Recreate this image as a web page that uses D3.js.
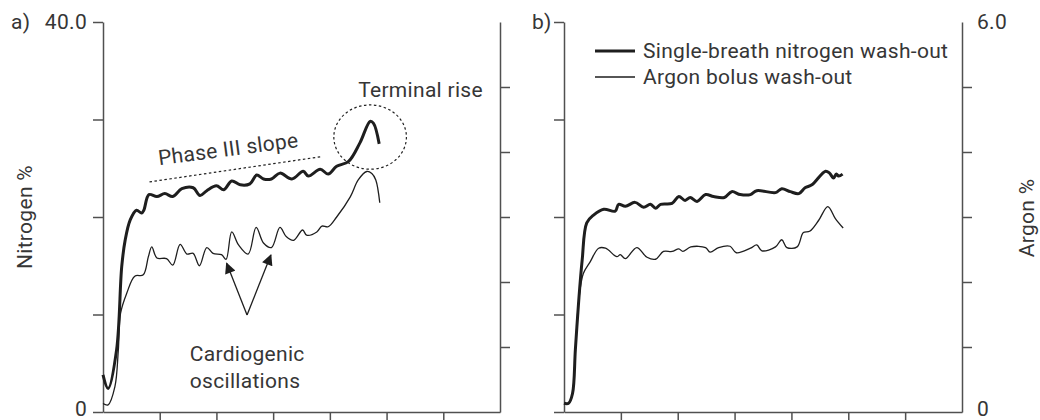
<!DOCTYPE html>
<html>
<head>
<meta charset="utf-8">
<script src="https://cdn.jsdelivr.net/npm/d3@7"></script>
<style>
  body { margin: 0; background: #fff; }
  svg text { font-family: Roboto, "DejaVu Sans", sans-serif; fill: #363636; font-size: 21px; letter-spacing: 0.3px; }
</style>
</head>
<body>
<svg width="1040" height="420"></svg>
<script>
// x in arbitrary volume units (0..7), nitrogen in %, argon in %
const nitrogenA = [
  [0, 3.8], [0.09, 2.4], [0.24, 6.4], [0.33, 14.9], [0.39, 17.6], [0.48, 19.7], [0.59, 20.7],
  [0.68, 20.4], [0.72, 20.7], [0.81, 22.3], [0.95, 22.1], [1.09, 22.4], [1.23, 22.1], [1.39, 22.9],
  [1.59, 23.0], [1.71, 22.2], [1.83, 22.7], [2.00, 23.2], [2.13, 22.8], [2.27, 23.7], [2.42, 23.3],
  [2.59, 23.4], [2.71, 24.3], [2.83, 23.9], [2.97, 23.9], [3.12, 24.5], [3.33, 23.9], [3.53, 24.7],
  [3.62, 24.2], [3.83, 24.9], [3.97, 24.4], [4.12, 25.2], [4.33, 25.7], [4.53, 27.6], [4.71, 29.8],
  [4.77, 29.6], [4.87, 27.5]
]
const argonA = [
  [0, 0.13], [0.09, 0.11], [0.21, 0.39], [0.27, 0.95], [0.31, 1.52], [0.42, 1.83], [0.56, 2.09],
  [0.71, 2.11], [0.80, 2.39], [0.86, 2.54], [0.95, 2.37], [1.12, 2.36], [1.23, 2.26], [1.36, 2.58],
  [1.48, 2.43], [1.59, 2.44], [1.70, 2.25], [1.83, 2.53], [1.94, 2.44], [2.09, 2.42], [2.17, 2.35],
  [2.27, 2.77], [2.39, 2.57], [2.56, 2.43], [2.70, 2.84], [2.83, 2.60], [2.97, 2.53], [3.12, 2.84],
  [3.23, 2.70], [3.36, 2.64], [3.52, 2.80], [3.59, 2.72], [3.77, 2.77], [3.86, 2.86], [3.97, 2.85],
  [4.12, 3.00], [4.36, 3.31], [4.50, 3.57], [4.65, 3.70], [4.74, 3.67], [4.81, 3.57], [4.88, 3.22]
]
const nitrogenB = [
  [0, 0.9], [0.08, 0.9], [0.15, 1.9], [0.20, 6.4], [0.26, 11.5], [0.32, 15.6], [0.40, 19.4],
  [0.52, 20.2], [0.70, 20.8], [0.90, 20.6], [0.96, 21.3], [1.08, 21.1], [1.25, 21.5], [1.40, 21.0],
  [1.52, 21.3], [1.61, 20.9], [1.70, 21.3], [1.90, 21.4], [2.02, 22.1], [2.13, 21.7], [2.22, 22.0],
  [2.34, 21.6], [2.49, 22.3], [2.63, 22.1], [2.82, 22.0], [2.95, 22.6], [3.10, 22.3], [3.28, 22.3],
  [3.39, 22.7], [3.72, 22.5], [3.83, 22.9], [3.98, 22.6], [4.13, 22.4], [4.24, 23.0], [4.36, 23.3],
  [4.60, 24.7], [4.67, 24.5], [4.74, 24.0], [4.79, 24.4], [4.83, 24.2], [4.90, 24.4]
]
const argonB = [
  [0, 0.13], [0.08, 0.13], [0.15, 0.29], [0.20, 0.95], [0.26, 1.72], [0.34, 2.13], [0.46, 2.31],
  [0.61, 2.52], [0.73, 2.52], [0.93, 2.39], [0.99, 2.42], [1.08, 2.36], [1.28, 2.53], [1.46, 2.38],
  [1.61, 2.35], [1.75, 2.47], [1.90, 2.47], [2.02, 2.51], [2.09, 2.47], [2.23, 2.54], [2.49, 2.53],
  [2.57, 2.46], [2.72, 2.53], [2.92, 2.55], [3.03, 2.45], [3.28, 2.52], [3.39, 2.57], [3.48, 2.48],
  [3.72, 2.54], [3.83, 2.65], [3.92, 2.53], [4.10, 2.54], [4.21, 2.76], [4.32, 2.78], [4.48, 2.95],
  [4.64, 3.16], [4.77, 2.98], [4.91, 2.83]
]
const xTicks = [1, 2, 3, 4, 5, 6]
const nitrogenTicks = [0, 10, 20, 30, 40]
const argonTicks = [1, 2, 3, 4, 5]
const legendLabels = ['Single-breath nitrogen wash-out', 'Argon bolus wash-out']

const svg = d3.select('svg')
const plotTop = 22
const plotBottom = 412

function drawPanel ({left, right, nitrogen, argon}) {
  const x = d3.scaleLinear().domain([0, 7]).range([left, right])
  const yN = d3.scaleLinear().domain([0, 40]).range([plotBottom, plotTop])
  const yA = d3.scaleLinear().domain([0, 6]).range([plotBottom, plotTop])
  const g = svg.append('g')

  const styleAxis = sel => {
    sel.selectAll('path, line').attr('stroke', '#505050').attr('stroke-width', 1.5)
    sel.selectAll('text').remove()
  }

  g.append('g')
    .attr('transform', 'translate(0,' + plotBottom + ')')
    .call(d3.axisBottom(x).tickValues(xTicks).tickSize(9).tickSizeOuter(0))
    .call(styleAxis)

  g.append('g')
    .attr('transform', 'translate(' + left + ',0)')
    .call(d3.axisLeft(yN).tickValues(nitrogenTicks).tickSize(10).tickSizeOuter(0))
    .call(styleAxis)

  g.append('g')
    .attr('transform', 'translate(' + right + ',0)')
    .call(d3.axisRight(yA).tickValues(argonTicks).tickSize(10).tickSizeOuter(0))
    .call(styleAxis)

  const lineN = d3.line().x(d => x(d[0])).y(d => yN(d[1])).curve(d3.curveCatmullRom)
  const lineA = d3.line().x(d => x(d[0])).y(d => yA(d[1])).curve(d3.curveCatmullRom)

  g.append('path')
    .datum(argon)
    .attr('fill', 'none')
    .attr('stroke', '#1e1e1e')
    .attr('stroke-width', 1.3)
    .attr('stroke-linejoin', 'round')
    .attr('d', lineA)

  g.append('path')
    .datum(nitrogen)
    .attr('fill', 'none')
    .attr('stroke', '#1e1e1e')
    .attr('stroke-width', 3)
    .attr('stroke-linejoin', 'round')
    .attr('d', lineN)

  return {g, x, yN, yA}
}

const a = drawPanel({left: 103, right: 500, nitrogen: nitrogenA, argon: argonA})
drawPanel({left: 564, right: 962, nitrogen: nitrogenB, argon: argonB})

// panel labels and axis labels
svg.append('text').attr('x', 11).attr('y', plotTop + 7).text('a)')
svg.append('text').attr('x', 87).attr('y', plotTop + 7).attr('text-anchor', 'end').text('40.0')
svg.append('text').attr('x', 87).attr('y', plotBottom + 4).attr('text-anchor', 'end').text('0')
svg.append('text').attr('text-anchor', 'middle')
  .attr('transform', 'translate(32,217) rotate(-90)').text('Nitrogen %')

svg.append('text').attr('x', 532).attr('y', plotTop + 7).text('b)')
svg.append('text').attr('x', 977).attr('y', plotTop + 7).text('6.0')
svg.append('text').attr('x', 977).attr('y', plotBottom + 4).text('0')
svg.append('text').attr('text-anchor', 'middle')
  .attr('transform', 'translate(1034,218) rotate(-90)').text('Argon %')

// legend
legendLabels.forEach((label, i) => {
  const y = 51 + i * 26
  svg.append('line').attr('x1', 595).attr('x2', 635).attr('y1', y).attr('y2', y)
    .attr('stroke', '#1e1e1e').attr('stroke-width', i === 0 ? 3 : 1.3)
  svg.append('text').attr('x', 643).attr('y', y + 7).text(label)
})

// annotations in panel a (data coordinates)
const ag = a.g
ag.append('line')
  .attr('x1', a.x(0.82)).attr('y1', a.yN(23.6))
  .attr('x2', a.x(3.86)).attr('y2', a.yN(26.2))
  .attr('stroke', '#222').attr('stroke-width', 1.2).attr('stroke-dasharray', '2.5,2.5')

const phaseX = a.x(0.99)
const phaseY = a.yN(25.3)
ag.append('text')
  .attr('transform', `translate(${phaseX},${phaseY}) rotate(-7.5)`)
  .text('Phase III slope')

ag.append('ellipse')
  .attr('cx', a.x(4.71)).attr('cy', a.yN(28.2))
  .attr('rx', a.x(0.64) - a.x(0)).attr('ry', a.yN(0) - a.yN(3.3))
  .attr('fill', 'none').attr('stroke', '#222').attr('stroke-width', 1.2)
  .attr('stroke-dasharray', '2.5,2.5')

ag.append('text').attr('x', a.x(4.50)).attr('y', a.yN(32.3)).text('Terminal rise')

svg.append('defs').append('marker')
  .attr('id', 'arrow')
  .attr('viewBox', '0 0 10 10')
  .attr('refX', 9).attr('refY', 5)
  .attr('markerWidth', 12).attr('markerHeight', 11)
  .attr('markerUnits', 'userSpaceOnUse')
  .attr('orient', 'auto')
  .append('path').attr('d', 'M0,0L10,5L0,10Z').attr('fill', '#1e1e1e')

const arrowTail = [2.54, 9.95]
const arrowHeads = [[2.18, 15.25], [2.96, 16.1]]
arrowHeads.forEach(h => {
  ag.append('line')
    .attr('x1', a.x(arrowTail[0])).attr('y1', a.yN(arrowTail[1]))
    .attr('x2', a.x(h[0])).attr('y2', a.yN(h[1]))
    .attr('stroke', '#1e1e1e').attr('stroke-width', 1.3)
    .attr('marker-end', 'url(#arrow)')
})

ag.append('text').attr('x', a.x(1.53)).attr('y', a.yN(5.2)).text('Cardiogenic')
ag.append('text').attr('x', a.x(1.53)).attr('y', a.yN(2.5)).text('oscillations')
</script>
</body>
</html>
